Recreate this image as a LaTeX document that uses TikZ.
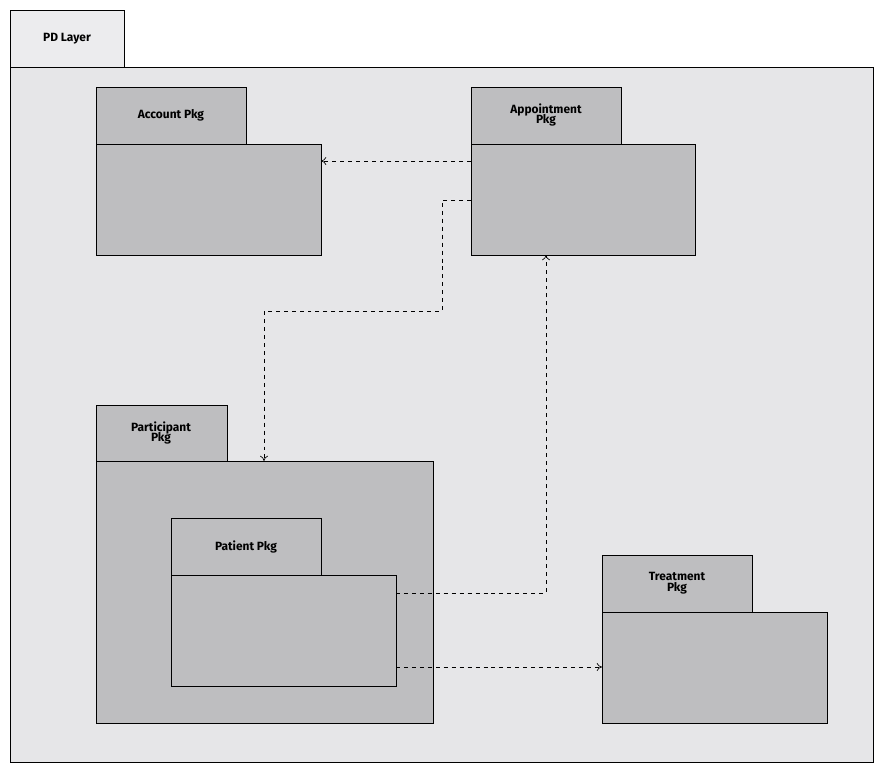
\documentclass[tikz,border=0pt]{standalone}
\usepackage{fontspec}
\setmainfont{Fira Sans}
\usetikzlibrary{arrows.meta}
\definecolor{layergray}{RGB}{230,230,232}
\definecolor{tabgray}{RGB}{236,236,238}
\definecolor{pkggray}{RGB}{190,190,192}
\tikzset{
  pkg/.style={draw=black, fill=pkggray, line width=0.5pt},
  title/.style={font=\bfseries\small, align=center},
  dep/.style={draw=black, dashed, line width=0.5pt, -{To[length=4pt,width=6pt]}}
}
\begin{document}
\begin{tikzpicture}[x=0.0265cm, y=-0.0265cm]
  \useasboundingbox (0,0) rectangle (883,773);
  % layer frame
  \draw[fill=tabgray] (10,10) rectangle (124,67);
  \draw[fill=layergray] (10,67) rectangle (873,762);
  \node[title, anchor=center] (layer) at (67,39) {PD Layer};
  % packages
  \draw[pkg] (96,87) rectangle (246,144);
  \draw[pkg] (96,144) rectangle (321,255);
  \node[title] (acct) at (171,115) {Account Pkg};
  \coordinate (acctR) at (321,161);
  \draw[pkg] (471,87) rectangle (621,144);
  \draw[pkg] (471,144) rectangle (695,255);
  \node[title] (appt) at (546,115) {Appointment\\[-3pt]Pkg};
  \coordinate (apptL) at (471,161);
  \coordinate (apptL2) at (471,200);
  \coordinate (apptB) at (546,255);
  \draw[pkg] (96,405) rectangle (227,461);
  \draw[pkg] (96,461) rectangle (433,723);
  \node[title] (part) at (161,433) {Participant\\[-3pt]Pkg};
  \coordinate (partT) at (264,461);
  \draw[pkg] (171,518) rectangle (321,575);
  \draw[pkg] (171,575) rectangle (396,686);
  \node[title] (pat) at (246,547) {Patient Pkg};
  \coordinate (patR1) at (396,593);
  \coordinate (patR2) at (396,667);
  \draw[pkg] (602,555) rectangle (752,612);
  \draw[pkg] (602,612) rectangle (827,723);
  \node[title] (treat) at (677,583) {Treatment\\[-3pt]Pkg};
  \coordinate (treatL) at (602,667);
  % dependencies
  \draw[dep] (apptL) -- (acctR);
  \draw[dep] (apptL2) -- (442,200) -- (442,311) -- (264,311) -- (partT);
  \draw[dep] (patR1) -- (546,593) -- (apptB);
  \draw[dep] (patR2) -- (treatL);
\end{tikzpicture}
\end{document}
